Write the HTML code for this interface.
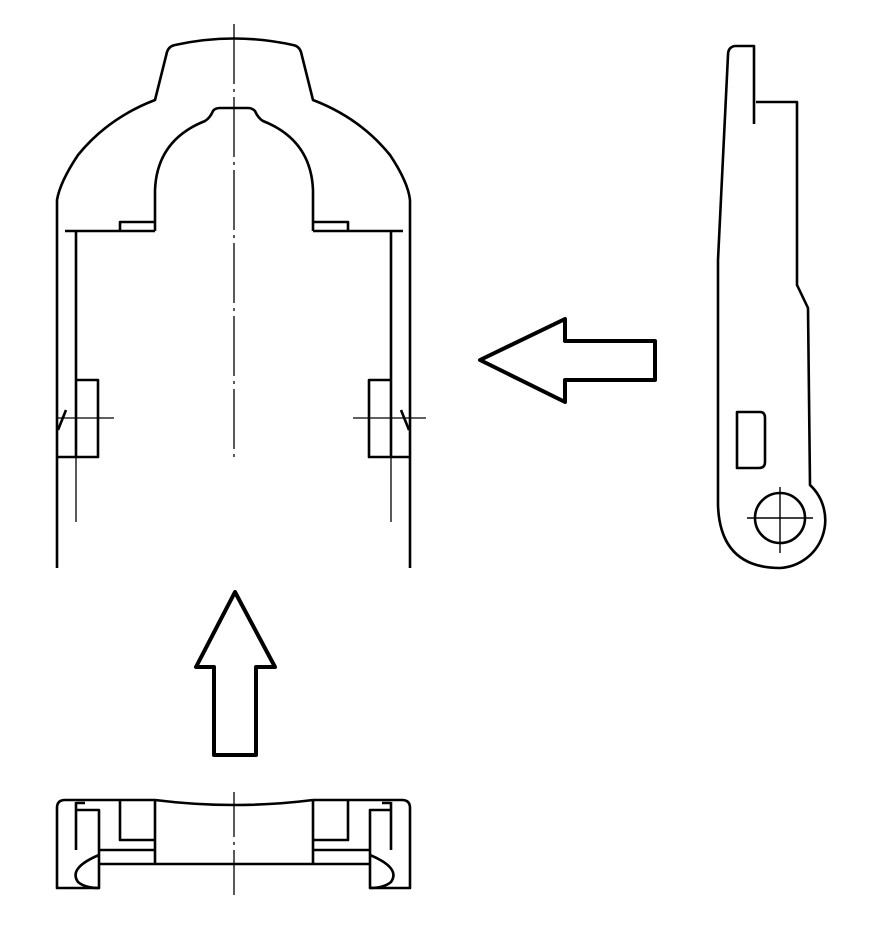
<!DOCTYPE html>
<html><head><style>html,body{margin:0;padding:0;background:#fff}svg{display:block}</style></head>
<body>
<svg width="896" height="930" viewBox="0 0 896 930" xmlns="http://www.w3.org/2000/svg" fill="none" stroke="#000" stroke-linejoin="round">
<g stroke-width="2.6">
<path d="M57,568 L57,200 Q60,182 78,155 Q108,118 155,100 L167,52 Q169,46 175,45 Q234,32 293,45 Q299,46 301,52 L313,100 Q360,118 390,155 Q408,182 410,200 L410,568"/>
<path d="M155,231 L155,190 Q157,140 205,121 Q210,118 213,111 Q215,108 220,108 L248,108 Q252,108 255,111 Q258,118 263,121 Q311,140 313,190 L313,231"/>
<path d="M65,231 L155,231 M313,231 L403,231"/>
<path d="M120,231 L120,222 L155,222 M348,231 L348,222 L313,222"/>
<path d="M76,231 L76,457 M391,231 L391,457"/>
<path d="M76,380 L98,380 L98,457 L57,457 M391,380 L369,380 L369,457 L410,457"/>
<path d="M58,430 L66,410 M409,430 L401,410"/>
</g>
<g stroke-width="1.3">
<path d="M76,457 L76,522 M391,457 L391,522"/>
<path d="M57,418 L114,418 M353,418 L426,418"/>
<path d="M234,24 L234,460" stroke-dasharray="60,5,3,5"/>
<path d="M234,792 L234,895" stroke-dasharray="45,5,3,5"/>
</g>
<path d="M480,360 L565,319 L565,341 L655,341 L655,380 L565,380 L565,402 Z" stroke-width="4"/>
<path d="M235,592 L196,667 L214,667 L214,755 L256,755 L256,667 L275,667 Z" stroke-width="4"/>
<g stroke-width="2.6">
<path d="M754,124 L754,46 L735,46 Q728,47 728,55 L718,260 L718,505 Q720,568 780,568 A48,48 0 0 0 810,485 L808,308 L797,285 L797,102 L756,102"/>
<path d="M737,412 L760,412 Q765,412 765,418 L765,462 Q765,468 759,468 L737,468 Z"/>
<circle cx="780" cy="518" r="25"/>
</g>
<path d="M747,518 L813,518 M780,487 L780,553" stroke-width="1.4"/>
<g stroke-width="2.6">
<path d="M155,800 L65,800 Q57,800 57,808 L57,888 L99,888 L99,810 L76,810 M76,802 L76,850 M76,803 L85,803"/>
<path d="M313,800 L402,800 Q410,800 410,808 L410,888 L370,888 L370,810 L391,810 M391,802 L391,850 M391,803 L382,803"/>
<path d="M120,800 L120,840 L155,840 M155,800 L155,864 M99,850 L155,850 M99,864 L370,864"/>
<path d="M348,800 L348,840 L313,840 M313,800 L313,864 M370,850 L313,850"/>
<path d="M155,800 Q234,810 313,800"/>
<path d="M99,855 Q68,868 78,882 Q85,888 99,888 M370,855 Q401,868 391,882 Q384,888 370,888"/>
</g>
</svg>
</body></html>
